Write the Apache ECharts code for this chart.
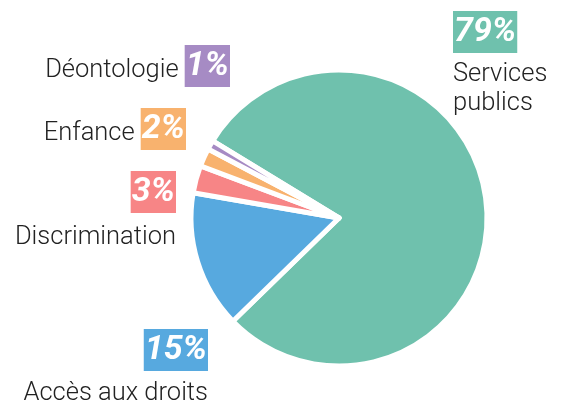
<!DOCTYPE html>
<html>
<head>
<meta charset="utf-8">
<script src="https://cdn.jsdelivr.net/npm/echarts@6/dist/echarts.min.js"></script>
<style>html,body{margin:0;padding:0;background:#fff;}#c{width:566px;height:409px;}</style>
</head>
<body>
<div id="c"></div>
<script>
const categories = ['Services publics', 'Accès aux droits', 'Discrimination', 'Enfance', 'Déontologie'];
const values = [79, 15, 3, 2, 1];
const percentLabels = ['79%', '15%', '3%', '2%', '1%'];
const displayNames = ['Services\npublics', 'Accès aux droits', 'Discrimination', 'Enfance', 'Déontologie'];
const colors = ['#6fc1ad', '#57a9df', '#f78586', '#f8b26e', '#a68bc4'];

const pctFont = "Roboto, 'Noto Sans', sans-serif";
const nameFont = "Roboto, 'Noto Sans', sans-serif";

// label layout (positions in px) per data index
const layouts = [
  { x: 453, y: 11, align: 'left', verticalAlign: 'top' },
  { x: 208, y: 329, align: 'right', verticalAlign: 'top' },
  { x: 176, y: 171, align: 'right', verticalAlign: 'top' },
  { x: 186, y: 108, align: 'right', verticalAlign: 'top' },
  { x: 230, y: 45, align: 'right', verticalAlign: 'top' }
];

function formatLabel(i) {
  const p = '{pct' + i + '|' + percentLabels[i] + '}';
  if (i === 0) return p + '\n{nameTop|Services}\n{name2|publics}';
  if (i === 1) return p + '\n{nameGapS|' + displayNames[i] + '}';
  if (i === 2) return p + '\n{nameGap|' + displayNames[i] + '}';
  return '{nameSide|' + displayNames[i] + '}' + p;
}

const nameBase = { color: '#222', fontFamily: nameFont, fontWeight: 300, fontSize: 25.5, lineHeight: 30 };
const rich = {
  nameTop: Object.assign({}, nameBase, { padding: [13, 0, 0, 0] }),
  name2: Object.assign({}, nameBase, { padding: [11, 0, 0, 0] }),
  nameGap: Object.assign({}, nameBase, { padding: [19, 0, 0, 0], align: 'right' }),
  nameGapS: Object.assign({}, nameBase, { padding: [15, 0, 0, 0], align: 'right' }),
  nameSide: Object.assign({}, nameBase, { padding: [10, 6, 0, 0] })
};
colors.forEach((c, i) => {
  rich['pct' + i] = {
    color: '#fff', backgroundColor: c, fontFamily: pctFont, fontWeight: 'bold', fontStyle: 'italic',
    fontSize: 34, lineHeight: 42, padding: [4, 1, 4, 1], align: i === 0 ? 'left' : 'right'
  };
});

const data = categories.map((n, i) => ({
  name: n,
  value: values[i],
  itemStyle: { color: colors[i] },
  label: { formatter: formatLabel(i) }
}));

const chart = echarts.init(document.getElementById('c'), null, { renderer: 'canvas' });
chart.setOption({
  animation: false,
  series: [{
    type: 'pie',
    center: [339, 218],
    radius: 148,
    startAngle: 148.6,
    clockwise: true,
    avoidLabelOverlap: false,
    itemStyle: { borderColor: '#fff', borderWidth: 5 },
    emphasis: { disabled: true },
    label: { show: true, position: 'outside', rich: rich },
    labelLine: { show: false },
    labelLayout: function (params) {
      return layouts[params.dataIndex];
    },
    data: data
  }]
});
</script>
</body>
</html>
